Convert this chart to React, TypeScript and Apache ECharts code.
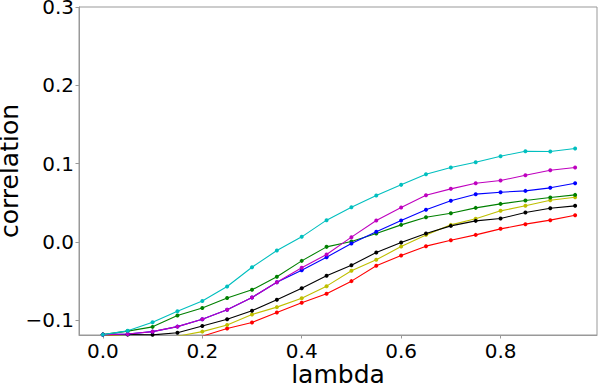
import React, { useEffect, useRef } from "react";
import * as echarts from "echarts";

const lambdas = [0, 0.05, 0.1, 0.15, 0.2, 0.25, 0.3, 0.35, 0.4, 0.45, 0.5, 0.55, 0.6, 0.65, 0.7, 0.75, 0.8, 0.85, 0.9, 0.95];

const cyanVals = [-0.1185, -0.1137, -0.1026, -0.0886, -0.0755, -0.0571, -0.0324, -0.0111, 0.0064, 0.0277, 0.0443, 0.0592, 0.0728, 0.0864, 0.0949, 0.1017, 0.1094, 0.1158, 0.1154, 0.1192];
const blueVals = [-0.1185, -0.1178, -0.1147, -0.1083, -0.0988, -0.0868, -0.0711, -0.0515, -0.0362, -0.0196, -0.0021, 0.0128, 0.0272, 0.0409, 0.0524, 0.0609, 0.0634, 0.0651, 0.069, 0.0749];
const magentaVals = [-0.1185, -0.1178, -0.1147, -0.1083, -0.0988, -0.0868, -0.0711, -0.0515, -0.0332, -0.0162, 0.006, 0.0272, 0.0438, 0.0596, 0.0677, 0.0749, 0.0783, 0.0851, 0.0915, 0.0949];
const greenVals = [-0.1185, -0.114, -0.1086, -0.094, -0.0846, -0.0717, -0.0613, -0.0447, -0.0243, -0.0064, 0.0004, 0.0106, 0.0217, 0.0315, 0.0366, 0.0434, 0.0485, 0.0528, 0.0566, 0.06];
const blackVals = [-0.1185, -0.1185, -0.1188, -0.1162, -0.1075, -0.0988, -0.0879, -0.0741, -0.0592, -0.0434, -0.0298, -0.0136, -0.0008, 0.0106, 0.0204, 0.0268, 0.0298, 0.0375, 0.043, 0.046];
const yellowVals = [-0.1185, -0.121, -0.123, -0.1205, -0.1147, -0.1062, -0.0928, -0.0834, -0.072, -0.0566, -0.037, -0.023, -0.006, 0.0089, 0.0217, 0.0294, 0.0396, 0.046, 0.0532, 0.057];
const redVals = [-0.1185, -0.122, -0.125, -0.1245, -0.1205, -0.1107, -0.103, -0.0902, -0.0779, -0.0664, -0.0502, -0.0306, -0.0175, -0.0055, 0.0021, 0.0089, 0.0166, 0.0226, 0.0277, 0.034];

const xTicks = [0, 0.2, 0.4, 0.6, 0.8];
const yTicks = [-0.1, 0, 0.1, 0.2, 0.3];

const seriesDefs = [
  { name: "r", color: "#ff0000", values: redVals },
  { name: "y", color: "#bfbf00", values: yellowVals },
  { name: "k", color: "#000000", values: blackVals },
  { name: "g", color: "#008000", values: greenVals },
  { name: "b", color: "#0000ff", values: blueVals },
  { name: "m", color: "#bf00bf", values: magentaVals },
  { name: "c", color: "#00bfbf", values: cyanVals },
];

const FONT = "DejaVu Sans";

export default function App() {
  const ref = useRef<HTMLDivElement>(null);
  useEffect(() => {
    if (!ref.current) return;
    const chart = echarts.init(ref.current, undefined, { renderer: "svg" });
    const fmt = (v: number) => {
      const s = Math.abs(v).toFixed(1);
      return v < -1e-9 ? "\u2212" + s : s;
    };
    chart.setOption({
      animation: false,
      backgroundColor: "#ffffff",
      textStyle: { fontFamily: FONT },
      grid: {
        left: 79,
        top: 7,
        right: 1,
        bottom: 51,
        outerBoundsMode: "none",
        containLabel: false,
        show: true,
        borderColor: "#999999",
        borderWidth: 1,
      },
      xAxis: {
        type: "value",
        min: -0.048,
        max: 0.994,
        name: "lambda",
        nameLocation: "middle",
        nameGap: 27,
        nameMoveOverlap: false,
        nameTextStyle: { fontSize: 25, color: "#000", fontFamily: FONT },
        axisLine: { onZero: false, lineStyle: { color: "#999999", width: 1 } },
        axisTick: { show: true, length: 3.5, customValues: xTicks, lineStyle: { color: "#999999" } },
        axisLabel: { customValues: xTicks, fontSize: 20, color: "#000", margin: 6, fontFamily: FONT, formatter: fmt },
        splitLine: { show: false },
      },
      yAxis: {
        type: "value",
        min: -0.119,
        max: 0.3,
        name: "correlation",
        nameLocation: "middle",
        nameGap: 57,
        nameMoveOverlap: false,
        nameTextStyle: { fontSize: 25, color: "#000", fontFamily: FONT },
        axisLine: { onZero: false, lineStyle: { color: "#999999", width: 1 } },
        axisTick: { show: true, length: 3.5, customValues: yTicks, lineStyle: { color: "#999999" } },
        axisLabel: { customValues: yTicks, fontSize: 20, color: "#000", margin: 5, fontFamily: FONT, formatter: fmt },
        splitLine: { show: false },
      },
      series: seriesDefs.map((s) => ({
        type: "line",
        name: s.name,
        data: lambdas.map((x, i) => [x, s.values[i]]),
        symbol: "circle",
        symbolSize: 4,
        showSymbol: true,
        clip: true,
        lineStyle: { color: s.color, width: 1.1 },
        itemStyle: { color: s.color },
      })),
    });
    return () => chart.dispose();
  }, []);
  return <div ref={ref} style={{ position: "absolute", left: 0, top: 0, width: 598, height: 386 }} />;
}
